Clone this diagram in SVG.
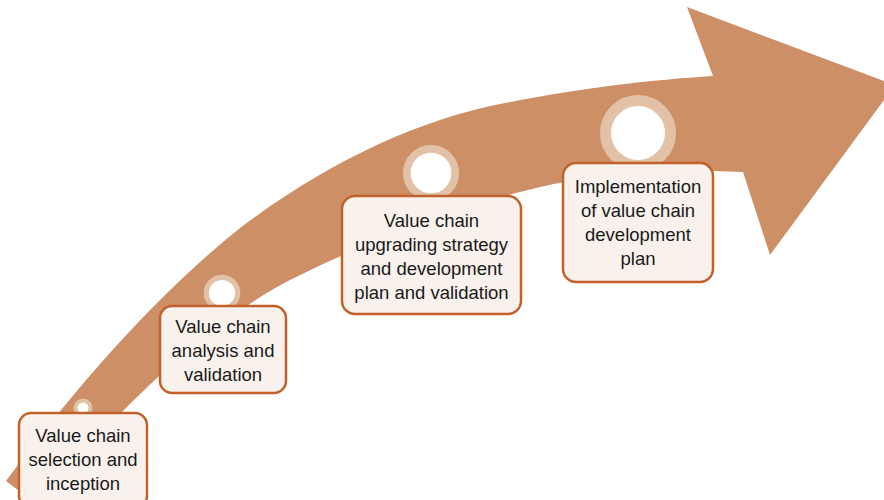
<svg xmlns="http://www.w3.org/2000/svg" width="884" height="500" viewBox="0 0 884 500">
  <style>
    .arrow { fill: #cd8f66; }
    .ring { fill: #ffffff; stroke: #e3c1a6; }
    .box { fill: #f8f1ec; stroke: #c2622b; stroke-width: 2.5; }
    .label { font-family: "Liberation Sans", Arial, sans-serif; font-size: 18.5px; fill: #1a1a1a; text-anchor: middle; }
  </style>
  <rect width="884" height="500" fill="#ffffff"/>

  <!-- curved progress arrow -->
  <g id="connectors">
    <path class="arrow" d="M 6,481 C 70,395 150,300 240,228 C 330,160 420,120 500,104 C 580,88 650,80 713,76 L 687,7 L 895,85 L 770,255 L 743,172 L 713,171 C 640,171 580,176 520,192 C 445,212 360,245 290,280 C 220,315 110,410 42,508 Z"/>
  </g>

  <!-- step 1 -->
  <g id="step1">
    <circle class="ring" cx="83" cy="408" r="7.6" stroke-width="4"/>
    <rect class="box" x="19" y="413" width="128" height="95" rx="12"/>
    <text class="label" x="83" y="442">Value chain</text>
    <text class="label" x="83" y="466">selection and</text>
    <text class="label" x="83" y="490">inception</text>
  </g>

  <!-- step 2 -->
  <g id="step2">
    <circle class="ring" cx="222" cy="293" r="15.7" stroke-width="5.2"/>
    <rect class="box" x="160" y="306" width="126" height="87" rx="12"/>
    <text class="label" x="223" y="333">Value chain</text>
    <text class="label" x="223" y="357">analysis and</text>
    <text class="label" x="223" y="381">validation</text>
  </g>

  <!-- step 3 -->
  <g id="step3">
    <circle class="ring" cx="431" cy="173" r="24.2" stroke-width="7.7"/>
    <rect class="box" x="342" y="196" width="179" height="118" rx="13"/>
    <text class="label" x="431.5" y="227">Value chain</text>
    <text class="label" x="431.5" y="251">upgrading strategy</text>
    <text class="label" x="431.5" y="275">and development</text>
    <text class="label" x="431.5" y="299">plan and validation</text>
  </g>

  <!-- step 4 -->
  <g id="step4">
    <circle class="ring" cx="638" cy="133" r="32.5" stroke-width="11"/>
    <rect class="box" x="563" y="163" width="150" height="119" rx="13"/>
    <text class="label" x="638" y="193">Implementation</text>
    <text class="label" x="638" y="217">of value chain</text>
    <text class="label" x="638" y="241">development</text>
    <text class="label" x="638" y="265">plan</text>
  </g>
</svg>
